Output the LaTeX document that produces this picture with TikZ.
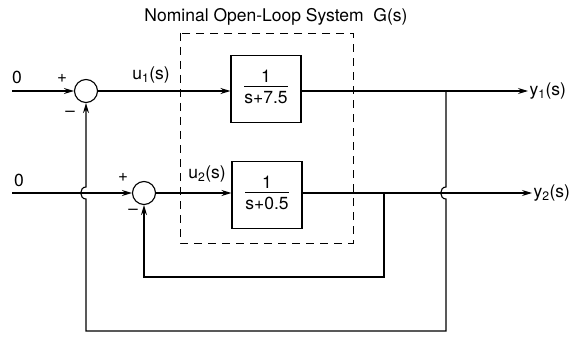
\documentclass[tikz,border=0pt]{standalone}
\usepackage{fontspec}
\setmainfont{TeX Gyre Heros}
\usetikzlibrary{arrows.meta}
\begin{document}
\begin{tikzpicture}[x=1pt,y=-1pt,font=\fontsize{17.5}{20}\selectfont,line width=1.1pt,
sumpt/.style={draw,circle,minimum size=23pt,inner sep=0pt},
blk/.style={draw,minimum width=70pt,minimum height=67pt,inner sep=0pt},
sgn/.style={font=\fontsize{17}{17}\selectfont,inner sep=0pt},
>={Stealth[length=10pt,width=6pt]}]
\useasboundingbox (0,0) rectangle (579,337);
\node (title) at (276,17) {Nominal Open-Loop System\ \ G(s)};
\draw[line width=0.9pt,dash pattern=on 8pt off 6pt] (180,33) rectangle (353,243);
% summing junctions and blocks
\node[sumpt] (s1) at (86,91) {};
\node[sumpt] (s2) at (144,193) {};
\node[blk,fill=white] (g1) at (266,89) {\begin{tabular}{@{}c@{}}1\\[-2pt]\hline\rule{0pt}{17pt}s+7.5\end{tabular}};
\node[blk,fill=white] (g2) at (267,195) {\begin{tabular}{@{}c@{}}1\\[-2pt]\hline\rule{0pt}{17pt}s+0.5\end{tabular}};
\node (in1) at (17,77) {0};
\node (in2) at (19,180) {0};
\coordinate (i1) at (12,91);
\coordinate (i2) at (12,193);
\node[sgn] at (62,78) {+};
\node[sgn] at (70,114) {--};
\node[sgn] at (123,177) {+};
\node[sgn] at (133,212) {--};
\node (u1) at (151,75) {u\textsubscript{1}(s)};
\node (u2) at (207,174) {u\textsubscript{2}(s)};
\node[anchor=west,inner sep=1pt] (y1) at (528,91) {y\textsubscript{1}(s)};
\node[anchor=west,inner sep=1pt] (y2) at (532,193) {y\textsubscript{2}(s)};
% forward paths
\draw[->] (i1) -- (s1);
\draw[->] (i2) -- (s2);
\draw[->] (s1) -- (g1.west |- s1);
\draw[->] (s2) -- (g2.west |- s2);
\draw[->] (g1.east |- s1) -- (y1);
\draw[->] (g2.east |- s2) -- (y2);
% feedback paths
\coordinate (b1) at (446,91);
\coordinate (b2) at (384,193);
\coordinate (x1) at (446,193);
\coordinate (x2) at (86,193);
\draw[->] (b2) -- (384,277) -- (144,277) -- (s2);
\draw[->] (b1) -- ([yshift=6pt]x1) .. controls ([xshift=-7pt,yshift=6pt]x1) and ([xshift=-7pt,yshift=-6pt]x1) .. ([yshift=-6pt]x1)
  -- (446,331) -- (86,331) -- ([yshift=-6pt]x2) .. controls ([xshift=-7pt,yshift=-6pt]x2) and ([xshift=-7pt,yshift=6pt]x2) .. ([yshift=6pt]x2) -- (s1);
\end{tikzpicture}
\end{document}
